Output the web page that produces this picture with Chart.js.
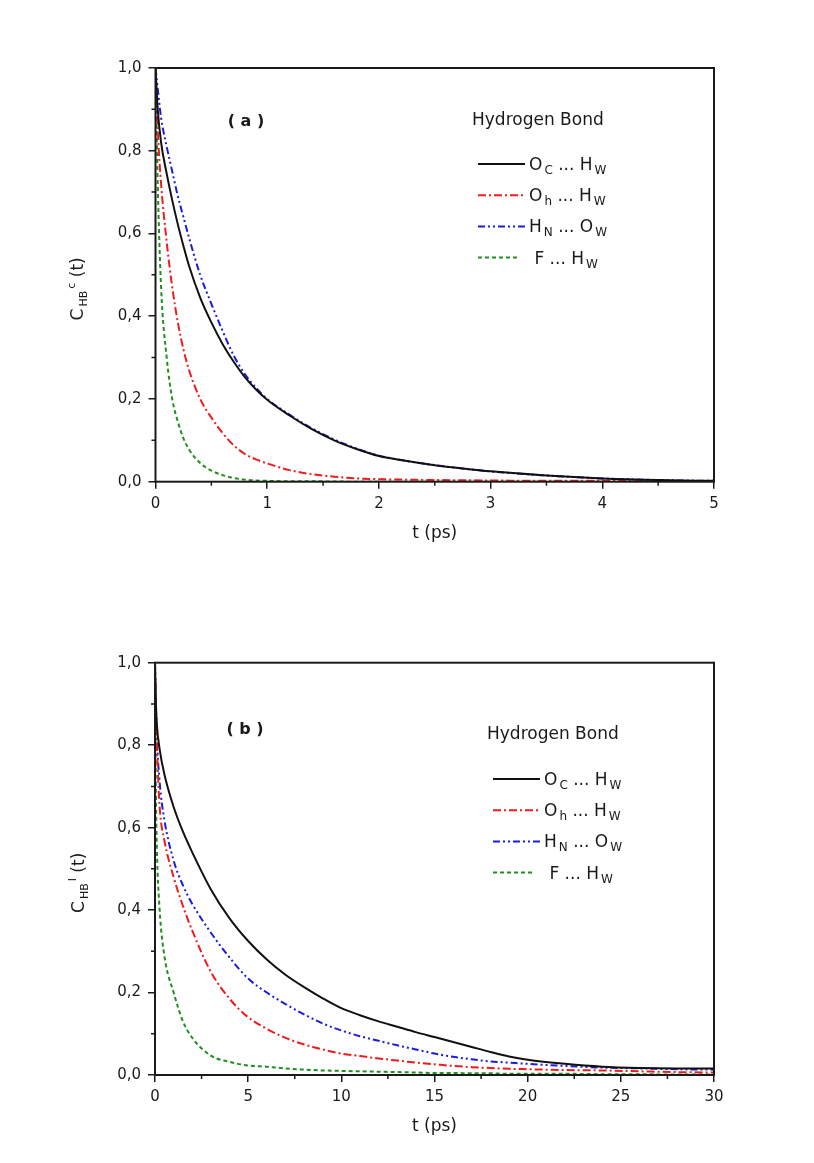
<!DOCTYPE html>
<html>
<head>
<meta charset="utf-8">
<script src="https://cdn.jsdelivr.net/npm/chart.js@4.4.1/dist/chart.umd.min.js"></script>
<style>
  body { margin: 0; background: #fff; }
  canvas { position: absolute; left: 0; }
  #chartA { top: 0; }
  #chartB { top: 580px; }
</style>
</head>
<body>
<canvas id="chartA" width="814" height="580"></canvas>
<canvas id="chartB" width="814" height="583"></canvas>
<script>
// (a) continuous HB correlation, t in ps
const timeA = [0, 0.02, 0.05, 0.1, 0.15, 0.2, 0.25, 0.3, 0.4, 0.5, 0.6, 0.7, 0.8, 0.9, 1.0,
  1.2, 1.4, 1.6, 1.8, 2.0, 2.25, 2.5, 2.75, 3.0, 3.5, 4.0, 4.5, 5.0];
const ocHwA = [1.0, 0.9, 0.82, 0.745, 0.68, 0.622, 0.57, 0.522, 0.445, 0.385, 0.333, 0.29, 0.253, 0.223, 0.198,
  0.16, 0.127, 0.10, 0.079, 0.062, 0.05, 0.04, 0.032, 0.025, 0.015, 0.008, 0.004, 0.002];
const ohHwA = [1.0, 0.85, 0.72, 0.58, 0.47, 0.385, 0.32, 0.27, 0.2, 0.155, 0.118, 0.088, 0.067, 0.054, 0.044,
  0.028, 0.018, 0.012, 0.008, 0.006, 0.005, 0.004, 0.0035, 0.003, 0.002, 0.002, 0.001, 0.001];
const hnOwA = [1.0, 0.95, 0.88, 0.81, 0.75, 0.69, 0.64, 0.59, 0.5, 0.43, 0.365, 0.305, 0.26, 0.227, 0.2,
  0.162, 0.129, 0.102, 0.08, 0.063, 0.05, 0.04, 0.032, 0.025, 0.015, 0.008, 0.004, 0.002];
const fHwA = [1.0, 0.72, 0.47, 0.3, 0.2, 0.145, 0.105, 0.078, 0.045, 0.027, 0.016, 0.009, 0.005, 0.003, 0.002,
  0.001, 0.001, 0.0005, 0, 0, 0, 0, 0, 0, 0, 0, 0, 0];

// (b) intermittent HB correlation
const timeB = [0, 0.05, 0.1, 0.25, 0.5, 1, 1.5, 2, 3, 4, 5, 6, 7, 8, 9, 10, 11, 12, 13, 14, 15,
  16, 17, 18, 19, 20, 22, 24, 26, 28, 30];
const ocHwB = [1.0, 0.9, 0.85, 0.79, 0.73, 0.65, 0.59, 0.54, 0.45, 0.38, 0.325, 0.28, 0.243, 0.213, 0.186,
  0.162, 0.145, 0.13, 0.117, 0.104, 0.092, 0.08, 0.068, 0.056, 0.045, 0.037, 0.027, 0.02, 0.017, 0.016, 0.016];
const ohHwB = [1.0, 0.88, 0.8, 0.65, 0.57, 0.48, 0.41, 0.35, 0.25, 0.185, 0.14, 0.112, 0.09, 0.074, 0.062,
  0.052, 0.046, 0.04, 0.035, 0.03, 0.026, 0.022, 0.019, 0.017, 0.015, 0.014, 0.012, 0.011, 0.009, 0.007, 0.006];
const hnOwB = [1.0, 0.9, 0.82, 0.71, 0.62, 0.52, 0.46, 0.415, 0.345, 0.285, 0.234, 0.2, 0.172, 0.147, 0.125,
  0.108, 0.094, 0.083, 0.072, 0.062, 0.052, 0.044, 0.038, 0.033, 0.03, 0.027, 0.022, 0.018, 0.016, 0.014, 0.013];
const fHwB = [1.0, 0.68, 0.55, 0.4, 0.29, 0.2, 0.13, 0.09, 0.047, 0.032, 0.023, 0.02, 0.016, 0.013, 0.011,
  0.01, 0.009, 0.008, 0.007, 0.006, 0.005, 0.005, 0.004, 0.004, 0.003, 0.003, 0.003, 0.002, 0.002, 0.001, 0.001];

// ticks
const yTicks = [0, 0.2, 0.4, 0.6, 0.8, 1.0];
const yMinor = [0.1, 0.3, 0.5, 0.7, 0.9];
const xTicksA = [0, 1, 2, 3, 4, 5];
const xMinorA = [0.5, 1.5, 2.5, 3.5, 4.5];
const xTicksB = [0, 5, 10, 15, 20, 25, 30];
const xMinorB = [2.5, 7.5, 12.5, 17.5, 22.5, 27.5];

// legend names, with subscripts
const bondNames = [
  [{ t: 'O', sub: 'C' }, { t: ' ... H', sub: 'W' }],
  [{ t: 'O', sub: 'h' }, { t: ' ... H', sub: 'W' }],
  [{ t: 'H', sub: 'N' }, { t: ' ... O', sub: 'W' }],
  [{ t: ' F ... H', sub: 'W' }]
];
const bondPlain = ['Oc ... Hw', 'Oh ... Hw', 'HN ... Ow', 'F ... Hw'];

const FONT = '"DejaVu Sans", sans-serif';
const INK = '#1a1a1a';
const lineStyles = [
  { color: '#111111', dash: [] },
  { color: '#ee1c1c', dash: [8, 3, 2, 3] },
  { color: '#1c1cdc', dash: [7, 3, 2, 3, 2, 3] },
  { color: '#1f8f1f', dash: [4, 3] }
];

function richWidth(ctx, parts, big, small) {
  let w = 0;
  for (const p of parts) {
    ctx.font = big + 'px ' + FONT;
    w += ctx.measureText(p.t).width;
    ctx.font = small + 'px ' + FONT;
    if (p.sub) w += ctx.measureText(p.sub).width + 2;
    if (p.sup) w += ctx.measureText(p.sup).width + 2;
  }
  return w;
}

function drawRich(ctx, parts, x, y, big, small) {
  for (const p of parts) {
    ctx.font = big + 'px ' + FONT;
    ctx.fillText(p.t, x, y);
    x += ctx.measureText(p.t).width;
    ctx.font = small + 'px ' + FONT;
    if (p.sub) { ctx.fillText(p.sub, x + 2, y + 4); x += ctx.measureText(p.sub).width + 2; }
    if (p.sup) { ctx.fillText(p.sup, x + 2, y - 8); x += ctx.measureText(p.sup).width + 2; }
  }
  return x;
}

// box, minor ticks, y title, panel tag and legend
const panelDecor = {
  id: 'panelDecor',
  afterDraw(chart, args, opts) {
    const ctx = chart.ctx;
    const a = chart.chartArea;
    const xs = chart.scales.x, ys = chart.scales.y;
    ctx.save();
    ctx.strokeStyle = INK;
    ctx.lineWidth = 2;
    ctx.setLineDash([]);
    ctx.strokeRect(a.left, a.top, a.right - a.left, a.bottom - a.top);

    ctx.lineWidth = 1.5;
    ctx.beginPath();
    opts.xMinor.forEach(v => {
      const px = xs.getPixelForValue(v);
      ctx.moveTo(px, a.bottom); ctx.lineTo(px, a.bottom + 4);
    });
    opts.yMinor.forEach(v => {
      const py = ys.getPixelForValue(v);
      ctx.moveTo(a.left, py); ctx.lineTo(a.left - 4, py);
    });
    ctx.stroke();

    ctx.fillStyle = INK;
    ctx.textBaseline = 'alphabetic';
    ctx.textAlign = 'left';

    // rotated y title
    const cy = (a.top + a.bottom) / 2 + 14;
    ctx.save();
    ctx.translate(opts.yTitleX, cy);
    ctx.rotate(-Math.PI / 2);
    const w = richWidth(ctx, opts.yTitle, 17, 11);
    drawRich(ctx, opts.yTitle, -w / 2, 6, 17, 11);
    ctx.restore();

    // panel tag
    ctx.font = 'bold 16px ' + FONT;
    ctx.textAlign = 'center';
    ctx.textBaseline = 'middle';
    ctx.fillText(opts.tag, a.left + opts.tagX, a.top + opts.tagY);

    // legend
    const lx = a.left + opts.legendX;
    ctx.textAlign = 'left';
    ctx.textBaseline = 'alphabetic';
    ctx.font = '17px ' + FONT;
    ctx.fillText('Hydrogen Bond', lx - 6, a.top + opts.legendTitleY);
    chart.data.datasets.forEach((ds, i) => {
      const y = a.top + opts.legendRowY + i * 31.2;
      ctx.strokeStyle = ds.borderColor;
      ctx.lineWidth = ds.borderWidth;
      ctx.setLineDash(ds.borderDash);
      ctx.beginPath();
      ctx.moveTo(lx, y);
      ctx.lineTo(lx + (i === 3 ? 41 : 47), y);
      ctx.stroke();
      ctx.setLineDash([]);
      ctx.fillStyle = INK;
      drawRich(ctx, bondNames[i], lx + 51, y + 6, 17, 12);
    });
    ctx.restore();
  }
};

function makePanel(id, p) {
  const datasets = p.series.map((vals, i) => ({
    label: bondPlain[i],
    data: p.time.map((t, j) => ({ x: t, y: vals[j] })),
    borderColor: lineStyles[i].color,
    borderDash: lineStyles[i].dash,
    borderWidth: 2,
    pointRadius: 0,
    fill: false,
    cubicInterpolationMode: 'monotone'
  }));
  const tickFont = { family: FONT, size: 15 };
  return new Chart(document.getElementById(id), {
    type: 'line',
    data: { datasets },
    options: {
      responsive: false,
      animation: false,
      layout: { padding: p.padding },
      plugins: {
        legend: { display: false },
        tooltip: { enabled: false },
        panelDecor: p.decor
      },
      scales: {
        x: {
          type: 'linear',
          min: 0,
          max: p.xTicks[p.xTicks.length - 1],
          afterBuildTicks: s => { s.ticks = p.xTicks.map(v => ({ value: v })); },
          afterFit: s => { s.height = 62; },
          grid: { drawOnChartArea: false, drawTicks: true, tickLength: 7, color: INK, lineWidth: 1.5 },
          border: { display: false },
          ticks: { color: INK, font: tickFont, padding: 6, maxRotation: 0, autoSkip: false,
                   callback: v => String(v) },
          title: { display: true, text: 't (ps)', color: INK, font: { family: FONT, size: 17 }, padding: 0 }
        },
        y: {
          min: 0,
          max: 1,
          afterBuildTicks: s => { s.ticks = yTicks.map(v => ({ value: v })); },
          afterFit: s => { s.width = 60; },
          grid: { drawOnChartArea: false, drawTicks: true, tickLength: 7, color: INK, lineWidth: 1.5 },
          border: { display: false },
          ticks: { color: INK, font: tickFont, padding: 7, autoSkip: false,
                   callback: v => v.toFixed(1).replace('.', ',') }
        }
      }
    },
    plugins: [panelDecor]
  });
}

makePanel('chartA', {
  time: timeA,
  series: [ocHwA, ohHwA, hnOwA, fHwA],
  xTicks: xTicksA,
  padding: { left: 95.5, right: 100, top: 68, bottom: 36.3 },
  decor: {
    xMinor: xMinorA, yMinor: yMinor,
    yTitle: [{ t: 'C', sub: 'HB', sup: 'c' }, { t: ' (t)' }],
    yTitleX: 77,
    tag: '( a )', tagX: 90.5, tagY: 54,
    legendX: 322.5, legendTitleY: 57, legendRowY: 96
  }
});

makePanel('chartB', {
  time: timeB,
  series: [ocHwB, ohHwB, hnOwB, fHwB],
  xTicks: xTicksB,
  padding: { left: 95, right: 100, top: 82.7, bottom: 26 },
  decor: {
    xMinor: xMinorB, yMinor: yMinor,
    yTitle: [{ t: 'C', sub: 'HB', sup: 'I' }, { t: ' (t)' }],
    yTitleX: 78,
    tag: '( b )', tagX: 90, tagY: 67,
    legendX: 338, legendTitleY: 76, legendRowY: 116.3
  }
});
</script>
</body>
</html>
